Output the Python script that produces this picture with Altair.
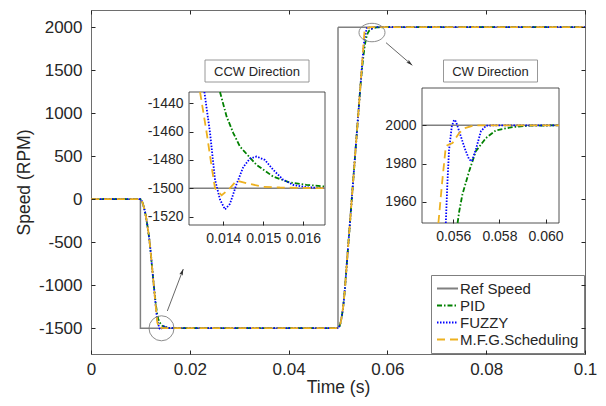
import altair as alt
import pandas as pd

# ---------------- data ----------------
SERIES = ["Ref Speed", "PID", "FUZZY", "M.F.G.Scheduling"]
COLORS = ["#808080", "#008000", "#0000FF", "#EDB120"]
DASHES = [[1, 0], [5, 2, 1.5, 2], [1.5, 1.5], [8, 5]]
WIDTHS = [1.5, 1.8, 1.8, 1.8]

REF_T = [0, 0.0100, 0.0100, 0.01314, 0.01655, 0.0500, 0.0500, 0.05465, 0.06058, 0.1]
REF_V = [0, 0, -1500, -1500, -1500, -1500, 2000, 2000, 2000, 2000]

PID_T = [0, 0.0100, 0.0102, 0.0104, 0.0106, 0.0108, 0.0110, 0.0112, 0.0114, 0.0116,
         0.0118, 0.0120, 0.0122, 0.0124, 0.0126, 0.0128, 0.0130, 0.0132, 0.0134, 0.0136,
         0.0138, 0.013917, 0.014084, 0.014251, 0.014418, 0.014834, 0.015251, 0.015668,
         0.016084, 0.01655, 0.0175, 0.0190, 0.0500, 0.0502, 0.0504, 0.0506, 0.0508, 0.0510,
         0.0512, 0.0514, 0.0516, 0.0518, 0.0520, 0.0525, 0.0530, 0.0535, 0.0540, 0.0545,
         0.0548, 0.0550, 0.0552, 0.0554, 0.0556, 0.0558, 0.0560, 0.05619, 0.05626, 0.0564,
         0.05669, 0.05698, 0.05742, 0.05785, 0.05857, 0.0593, 0.06058, 0.1]
PID_V = [0, 0, -10, -35, -70, -115, -165, -230, -300, -375,
         -465, -568, -690, -812, -934, -1050, -1160, -1255, -1335, -1390,
         -1418, -1432, -1449.4, -1461, -1470.6, -1483.5, -1491.8, -1496,
         -1497.6, -1498.8, -1499.7, -1500, -1500, -1490, -1462, -1415, -1352, -1272,
         -1170, -1040, -890, -740, -590, -215, 160, 535, 910, 1285,
         1480, 1590, 1690, 1775, 1845, 1895, 1928, 1949, 1955, 1964,
         1976, 1986.5, 1993.4, 1997.4, 1999.1, 1999.8, 2000, 2000]

FUZZY_T = [0, 0.0100, 0.0102, 0.0104, 0.0106, 0.0108, 0.0110, 0.0112, 0.0114, 0.0116,
           0.0118, 0.0120, 0.0122, 0.0124, 0.0126, 0.0128, 0.0130, 0.0132, 0.0133, 0.0134,
           0.01346, 0.013526, 0.013668, 0.013792, 0.013917, 0.014043, 0.014168, 0.014334,
           0.014501, 0.014668, 0.014834, 0.015043, 0.015251, 0.015501, 0.015751, 0.016084,
           0.01655, 0.0190, 0.0500, 0.0502, 0.0504, 0.0506, 0.0508, 0.0510, 0.0512, 0.0514,
           0.0516, 0.0518, 0.0520, 0.0525, 0.0530, 0.0535, 0.0540, 0.0545, 0.0550, 0.0552,
           0.0554, 0.05568, 0.05575, 0.05582, 0.05594, 0.05604, 0.05612, 0.05633, 0.05650,
           0.05669, 0.05681, 0.05698, 0.0572, 0.05742, 0.0578, 0.06058, 0.1]
FUZZY_V = [0, 0, -10, -35, -70, -115, -165, -230, -300, -375,
           -465, -568, -690, -812, -934, -1056, -1178, -1300, -1355, -1400,
           -1418, -1432, -1461, -1494, -1508, -1515, -1511, -1497,
           -1485, -1479, -1477.6, -1480, -1487, -1494, -1497.6, -1499.3,
           -1500, -1500, -1500, -1490, -1462, -1415, -1352, -1272, -1170, -1040,
           -890, -740, -590, -215, 160, 535, 910, 1285, 1650, 1780,
           1880, 1949, 1970, 1987, 1999.5, 2002.9, 2002, 1994.3, 1988,
           1982.2, 1981.3, 1987.4, 1996.9, 1999.8, 2000, 2000, 2000]

MFG_T = [0, 0.0100, 0.0102, 0.0104, 0.0106, 0.0108, 0.0110, 0.0112, 0.0114, 0.0116,
         0.0118, 0.0120, 0.0122, 0.0124, 0.0126, 0.0128, 0.0130, 0.0132, 0.0134, 0.013417,
         0.013584, 0.013709, 0.013792, 0.013959, 0.014168, 0.014334, 0.014584, 0.015001,
         0.015418, 0.01655, 0.0190, 0.0500, 0.0502, 0.0504, 0.0506, 0.0508, 0.0510, 0.0512,
         0.0514, 0.0516, 0.0518, 0.0520, 0.0525, 0.0530, 0.0535, 0.0540, 0.0545, 0.0550,
         0.0552, 0.05536, 0.05552, 0.05568, 0.05575, 0.05597, 0.05626, 0.05648, 0.05691,
         0.06058, 0.1]
MFG_V = [0, 0, -10, -35, -70, -115, -165, -230, -300, -375,
         -465, -568, -690, -812, -934, -1056, -1178, -1300, -1421, -1432,
         -1461, -1485, -1500, -1505, -1500, -1494.6, -1496.5, -1499,
         -1499.5, -1500, -1500, -1500, -1490, -1462, -1415, -1352, -1272, -1170,
         -1040, -890, -740, -590, -215, 160, 535, 910, 1285, 1670,
         1830, 1949, 1970, 1989, 1989.6, 1990.8, 1996, 1998.5, 2000,
         2000, 2000]

# main axes
X_DOMAIN = [0, 0.1]
Y_DOMAIN = [-1800, 2200]
X_TICKS = [0, 0.02, 0.04, 0.06, 0.08, 0.1]
Y_TICKS = [-1500, -1000, -500, 0, 500, 1000, 1500, 2000]

# insets
CCW_X = [0.01314, 0.01655]
CCW_Y = [-1526, -1432]
CCW_XT = [0.014, 0.015, 0.016]
CCW_YT = [-1520, -1500, -1480, -1460, -1440]
CW_X = [0.05465, 0.06058]
CW_Y = [1949, 2019.5]
CW_XT = [0.056, 0.058, 0.060]
CW_YT = [1960, 1980, 2000]
INSET_TITLES = ["CCW Direction", "CW Direction"]

# annotations (zoom circles and arrows)
CIRCLE_T = [0.01427]
CIRCLE_V = [-1501]
ELLIPSE_T = [0.05688]
ELLIPSE_V = [1938]
ARROW_T0 = [0.01545, 0.05972]
ARROW_V0 = [-1300, 1820]
ARROW_T1 = [0.01868, 0.06504]
ARROW_V1 = [-812, 1557]
ARROW_ANGLE = [20.9, 130.7]

# ---------------- layout ----------------
W, H = 494, 344
PAD = {"left": 91, "top": 10, "right": 21, "bottom": 52}
CCW_PX = [98, 234]
CCW_PY = [215, 82]
CW_PX = [331, 468]
CW_PY = [213, 78]
TXT = "#262626"
FONT = "Liberation Sans"

rows = []
for name, ts, vs in zip(SERIES, [REF_T, PID_T, FUZZY_T, MFG_T], [REF_V, PID_V, FUZZY_V, MFG_V]):
    assert len(ts) == len(vs), name
    for i, (t, v) in enumerate(zip(ts, vs)):
        rows.append({"series": name, "t": t, "v": v, "i": i})
df = pd.DataFrame(rows)

LEG = alt.Legend(title=None, orient="bottom-right", offset=1, fillColor="white",
                 strokeColor="#7f7f7f", padding=5, labelFontSize=15, labelFont=FONT,
                 labelColor=TXT, symbolType="stroke", symbolSize=441, symbolStrokeWidth=1.8,
                 clipHeight=17, rowPadding=0, labelOffset=1, labelLimit=300, cornerRadius=0)

sx_main = alt.Scale(domain=X_DOMAIN, nice=False, zero=False)
sy_main = alt.Scale(domain=Y_DOMAIN, nice=False, zero=False)

ax_main_x = alt.Axis(orient="bottom", values=X_TICKS, format="~g", offset=-4, domain=False,
                     tickSize=4, labelFontSize=17, titleFontSize=17.5, labelPadding=7,
                     titlePadding=1, title="Time (s)", grid=False, zindex=1, labelFlush=False)
ax_main_y = alt.Axis(orient="left", values=Y_TICKS, labelExpr="'' + datum.value", offset=-4,
                     domain=False, tickSize=4, labelFontSize=17, titleFontSize=17.5,
                     labelPadding=9, titlePadding=5, title="Speed (RPM)", grid=False, zindex=1,
                     labelFlush=False)
ax_mirror_x = alt.Axis(orient="top", values=X_TICKS, labels=False, offset=-4, domain=False,
                       tickSize=4, title=None, grid=False, zindex=1)
ax_mirror_y = alt.Axis(orient="right", values=Y_TICKS, labels=False, offset=-4, domain=False,
                       tickSize=4, title=None, grid=False, zindex=1)


def series_layer(k, x_enc, y_enc, flt=None, legend=True):
    name = SERIES[k]
    base = alt.Chart(df).transform_filter(alt.datum.series == name)
    if flt is not None:
        base = base.transform_filter(flt)
    if legend:
        return base.mark_line(strokeWidth=WIDTHS[k]).encode(
            x=x_enc, y=y_enc, order=alt.Order("i:Q"),
            color=alt.Color("series:N", scale=alt.Scale(domain=SERIES, range=COLORS), legend=LEG),
            strokeDash=alt.StrokeDash("series:N", scale=alt.Scale(domain=SERIES, range=DASHES), legend=LEG),
        )
    return base.mark_line(strokeWidth=WIDTHS[k], color=COLORS[k], strokeDash=DASHES[k]).encode(
        x=x_enc, y=y_enc, order=alt.Order("i:Q"))


# ---------------- main panel ----------------
main_layers = []
for k in range(4):
    if k == 0:
        xe = alt.X("t:Q", scale=sx_main, axis=ax_main_x)
        ye = alt.Y("v:Q", scale=sy_main, axis=ax_main_y)
    else:
        xe = alt.X("t:Q", scale=sx_main, axis=None)
        ye = alt.Y("v:Q", scale=sy_main, axis=None)
    main_layers.append(series_layer(k, xe, ye))

mirror = alt.Chart(df).transform_filter(alt.datum.series == SERIES[0]).mark_line(opacity=0).encode(
    x=alt.X("t:Q", scale=sx_main, axis=ax_mirror_x),
    y=alt.Y("v:Q", scale=sy_main, axis=ax_mirror_y))

circ = alt.Chart(pd.DataFrame({"t": CIRCLE_T, "v": CIRCLE_V})).mark_point(
    shape="circle", size=625, filled=False, color="#7f7f7f", strokeWidth=0.9, opacity=1).encode(
    x=alt.X("t:Q", scale=sx_main, axis=None), y=alt.Y("v:Q", scale=sy_main, axis=None))

ELL_PATH = "M-1,0A1,0.71,0,1,1,1,0A1,0.71,0,1,1,-1,0Z"
ell = alt.Chart(pd.DataFrame({"t": ELLIPSE_T, "v": ELLIPSE_V})).mark_point(
    shape=ELL_PATH, size=676, filled=False, color="#7f7f7f", strokeWidth=0.9, opacity=1).encode(
    x=alt.X("t:Q", scale=sx_main, axis=None), y=alt.Y("v:Q", scale=sy_main, axis=None))

arr_df = pd.DataFrame({"t0": ARROW_T0, "v0": ARROW_V0, "t1": ARROW_T1, "v1": ARROW_V1,
                       "ang": ARROW_ANGLE})
arr_rule = alt.Chart(arr_df).mark_rule(color="#404040", strokeWidth=0.8).encode(
    x=alt.X("t0:Q", scale=sx_main, axis=None), x2="t1:Q",
    y=alt.Y("v0:Q", scale=sy_main, axis=None), y2="v1:Q")
HEAD_PATH = "M0,0L0.45,1.6L0,1.25L-0.45,1.6Z"
arr_head = alt.Chart(arr_df).mark_point(shape=HEAD_PATH, size=64, filled=True, color="#303030",
                                        opacity=1, strokeWidth=0).encode(
    x=alt.X("t1:Q", scale=sx_main, axis=None), y=alt.Y("v1:Q", scale=sy_main, axis=None),
    angle=alt.Angle("ang:Q", scale=None))

main = alt.layer(*main_layers, circ, ell, arr_rule, arr_head, mirror).resolve_axis(
    x="independent", y="independent")


# ---------------- insets ----------------
def inset(xd, yd, px, py, xt, yt, title, half_w):
    sx = alt.Scale(domain=xd, range=px, nice=False, zero=False)
    sy = alt.Scale(domain=yd, range=py, nice=False, zero=False)
    axx = alt.Axis(orient="bottom", values=xt, format=".3f", offset=-(H - py[0]) - 4, domain=False,
                   tickSize=4, labelFontSize=14, labelPadding=6, title=None, grid=False, zindex=1,
                   labelFlush=False)
    axy = alt.Axis(orient="left", values=yt, labelExpr="'' + datum.value", offset=-px[0] - 4,
                   domain=False, tickSize=4, labelFontSize=14, labelPadding=6, title=None,
                   grid=False, zindex=1, labelFlush=False)
    frame_df = pd.DataFrame({"x0": [xd[0]], "x1": [xd[1]], "y0": [yd[0]], "y1": [yd[1]]})
    frame = alt.Chart(frame_df).mark_rect(fill="white", stroke="#262626", strokeWidth=0.8).encode(
        x=alt.X("x0:Q", scale=sx, axis=axx), x2="x1:Q",
        y=alt.Y("y0:Q", scale=sy, axis=axy), y2="y1:Q")
    flt = (f"datum.t >= {xd[0] - 1e-9} && datum.t <= {xd[1] + 1e-9} && "
           f"datum.v >= {yd[0] - 1e-6} && datum.v <= {yd[1] + 1e-6}")
    lines = [series_layer(k, alt.X("t:Q", scale=sx, axis=None), alt.Y("v:Q", scale=sy, axis=None),
                          flt=flt, legend=False) for k in range(4)]
    cx = (px[0] + px[1]) / 2
    tdf = pd.DataFrame({"label": [title]})
    tbox = alt.Chart(tdf).mark_rect(fill="white", stroke="#8c8c8c", strokeWidth=0.9).encode(
        x=alt.value(cx - half_w), x2=alt.value(cx + half_w),
        y=alt.value(50), y2=alt.value(72))
    ttxt = alt.Chart(tdf).mark_text(font=FONT, fontSize=13, color=TXT, align="center",
                                    baseline="middle").encode(
        x=alt.value(cx), y=alt.value(61.5), text="label:N")
    return alt.layer(frame, *lines, tbox, ttxt).resolve_axis(x="independent", y="independent")


ccw = inset(CCW_X, CCW_Y, CCW_PX, CCW_PY, CCW_XT, CCW_YT, INSET_TITLES[0], 52)
cw = inset(CW_X, CW_Y, CW_PX, CW_PY, CW_XT, CW_YT, INSET_TITLES[1], 47)

chart = alt.layer(main, ccw, cw).resolve_scale(x="independent", y="independent").properties(
    width=W, height=H, padding=PAD, autosize=alt.AutoSizeParams(type="none"),
    background="white"
).configure_view(stroke="#6e6e6e", strokeWidth=1).configure_axis(
    labelFont=FONT, titleFont=FONT, labelColor=TXT, titleColor=TXT, tickColor=TXT,
    titleFontWeight="normal")

chart.save("out.html", embed_options={"renderer": "svg", "actions": False})
